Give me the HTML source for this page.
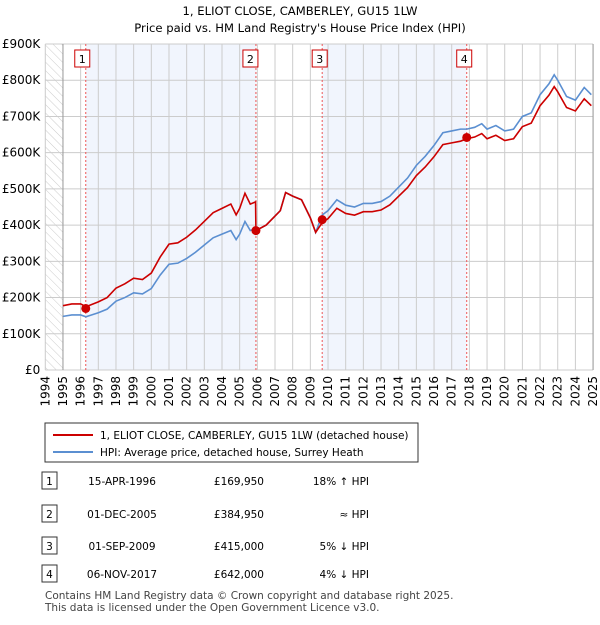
<!DOCTYPE html>
<html><head><meta charset="utf-8"><style>
body{margin:0;background:#fff;font-family:"Liberation Sans","DejaVu Sans",sans-serif;}
svg text{font-family:"DejaVu Sans","Liberation Sans",sans-serif;}
</style></head><body>
<svg id="c" width="600" height="620" xmlns="http://www.w3.org/2000/svg">
<defs><pattern id="hatch" width="6" height="6" patternUnits="userSpaceOnUse" patternTransform="rotate(-45)"><line x1="0" y1="0" x2="0" y2="6" stroke="#ccc" stroke-width="1"/></pattern></defs>
<text x="300" y="15" text-anchor="middle" font-size="11.6">1, ELIOT CLOSE, CAMBERLEY, GU15 1LW</text>
<text x="300" y="32" text-anchor="middle" font-size="11.6">Price paid vs. HM Land Registry's House Price Index (HPI)</text>
<g id="plot"></g>
<g>
<rect x="45" y="423" width="373" height="39" fill="#fff" stroke="#333"/>
<line x1="53" y1="435" x2="93" y2="435" stroke="#cc0000" stroke-width="2"/>
<text x="100" y="439" font-size="10.5">1, ELIOT CLOSE, CAMBERLEY, GU15 1LW (detached house)</text>
<line x1="53" y1="452" x2="93" y2="452" stroke="#5b8fd1" stroke-width="2"/>
<text x="100" y="456" font-size="10.5">HPI: Average price, detached house, Surrey Heath</text>
</g>
<g id="tbl" font-size="10.5"></g>
<text x="45" y="599" font-size="10.5" fill="#444">Contains HM Land Registry data © Crown copyright and database right 2025.</text>
<text x="45" y="611" font-size="10.5" fill="#444">This data is licensed under the Open Government Licence v3.0.</text>
</svg>
<script>
const hpiYears=[1995,1995.5,1996,1996.3,1996.5,1997,1997.5,1998,1998.5,1999,1999.5,2000,2000.5,2001,2001.5,2002,2002.5,2003,2003.5,2004,2004.5,2004.8,2005,2005.3,2005.6,2005.9,2005.92,2006.5,2007,2007.3,2007.6,2008,2008.5,2009,2009.3,2009.67,2010,2010.5,2011,2011.5,2012,2012.5,2013,2013.5,2014,2014.5,2015,2015.5,2016,2016.5,2017,2017.5,2017.85,2018.3,2018.7,2019,2019.5,2020,2020.5,2021,2021.5,2022,2022.5,2022.8,2023,2023.5,2024,2024.5,2024.9];
const hpiValues=[148,152,152,147,150,158,168,190,200,213,210,225,262,292,295,308,325,345,365,375,385,360,375,410,385,390,385,400,425,440,490,480,470,420,380,428,440,470,455,450,460,460,465,480,505,530,565,590,620,655,660,665,665,670,680,665,675,660,665,700,710,760,790,815,800,755,745,780,760];
const saleDates=[1996.29,2005.92,2009.67,2017.85];
const salePrices=[169950,384950,415000,642000];
const saleLabels=["15-APR-1996","01-DEC-2005","01-SEP-2009","06-NOV-2017"];
const salePriceLabels=["£169,950","£384,950","£415,000","£642,000"];
const saleHpiLabels=["18% ↑ HPI","≈ HPI","5% ↓ HPI","4% ↓ HPI"];
const priceRatios=[1.2,1.19,1.0,0.95,0.96];
const yTicks=[0,100,200,300,400,500,600,700,800,900];
const yTickLabels=["£0","£100K","£200K","£300K","£400K","£500K","£600K","£700K","£800K","£900K"];
const xYears=[1994,1995,1996,1997,1998,1999,2000,2001,2002,2003,2004,2005,2006,2007,2008,2009,2010,2011,2012,2013,2014,2015,2016,2017,2018,2019,2020,2021,2022,2023,2024,2025];

const NS="http://www.w3.org/2000/svg";
const X0=45.3,PX=17.67,Y0=370,PY=0.3622;
const xs=y=>X0+(y-1994)*PX, ys=v=>Y0-v*PY;
const plot=document.getElementById('plot');
function mk(tag,at,parent){const e=document.createElementNS(NS,tag);for(const k in at)e.setAttribute(k,at[k]);(parent||plot).appendChild(e);return e;}
const L=X0,R=xs(2025),T=ys(900);
let e;
e=mk('rect',{x:L,y:T,width:R-L,height:Y0-T,fill:'#fff'});


e=mk('rect',{x:L,y:T,width:xs(1995)-L,height:Y0-T,fill:'url(#hatch)'});


for(let i=0;i<4;i+=2){
 e=mk('rect',{x:xs(saleDates[i]),y:T,width:xs(saleDates[i+1])-xs(saleDates[i]),height:Y0-T,fill:'#eef3fc',opacity:0.8});
 
 
}
yTicks.forEach((v,i)=>{
 e=mk('line',{x1:L,x2:R,y1:ys(v),y2:ys(v),stroke:'#ccc'});
 
 
 e=mk('text',{x:L-5,y:ys(v)+4,'text-anchor':'end','font-size':12});
 e.textContent=yTickLabels[i];
 
 
});
xYears.forEach(y=>{
 e=mk('line',{x1:xs(y),x2:xs(y),y1:T,y2:Y0,stroke:'#ccc'});
 
 
 e=mk('text',{x:0,y:0,'font-size':12,'text-anchor':'end',transform:`translate(${xs(y)+4},${Y0+6}) rotate(-90)`});
 e.textContent=y;
 
 
});
e=mk('line',{x1:xs(1995),x2:xs(1995),y1:T,y2:Y0,stroke:'#999'});


e=mk('line',{x1:R,x2:R,y1:T,y2:Y0,stroke:'#999'});


saleDates.forEach((d,i)=>{
 e=mk('line',{x1:xs(d),x2:xs(d),y1:T,y2:Y0,stroke:'#e55','stroke-dasharray':'2,2','stroke-width':1});
 
 
 e=mk('rect',{x:xs(d)-10-(i<2?3:0)+(i==0?2:0),y:50,width:15,height:17,fill:'#fff',stroke:'#c00'});
 
 
 e=mk('text',{x:xs(d)-2.5-(i<2?3:0)+(i==0?2:0),y:63,'text-anchor':'middle','font-size':11});
 e.textContent=i+1;
 
 
});
function ratioAt(y){let k=0;for(const d of saleDates)if(y>=d)k++;return priceRatios[k];}
const hp=hpiYears.map((y,i)=>xs(y)+','+ys(hpiValues[i])).join(' ');
e=mk('polyline',{points:hp,fill:'none',stroke:'#5b8fd1','stroke-width':1.6});


const rp=hpiYears.map((y,i)=>xs(y)+','+ys(hpiValues[i]*ratioAt(y))).join(' ');
e=mk('polyline',{points:rp,fill:'none',stroke:'#cc0000','stroke-width':1.6});


saleDates.forEach((d,i)=>{
 e=mk('circle',{cx:xs(d),cy:ys(salePrices[i]/1000),r:4.5,fill:'#cc0000'});
 
 
});
const tbl=document.getElementById('tbl');
const rowY=[482,515,547,575];
saleDates.forEach((d,i)=>{
 const y=rowY[i];
 e=mk('rect',{x:42,y:y-10,width:15,height:17,fill:'#fff',stroke:'#333'},tbl);
 
 
 e=mk('text',{x:49.5,y:y+3,'text-anchor':'middle'},tbl);e.textContent=i+1;
 
 
 e=mk('text',{x:122,y:y+3,'text-anchor':'middle'},tbl);e.textContent=saleLabels[i];
 
 
 e=mk('text',{x:264,y:y+3,'text-anchor':'end'},tbl);e.textContent=salePriceLabels[i];
 
 
 e=mk('text',{x:369,y:y+3,'text-anchor':'end'},tbl);e.textContent=saleHpiLabels[i];
 
 
});
</script>
</body></html>
